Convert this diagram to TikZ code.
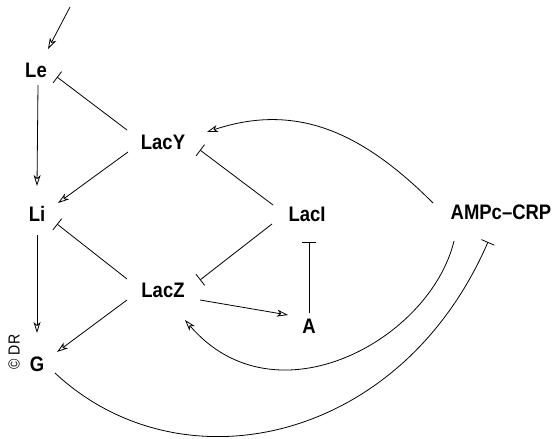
\documentclass[tikz,border=0pt]{standalone}
\usepackage{fontspec}
\setmainfont{Liberation Sans}
\newfontfamily\lblfont[FakeStretch=0.88]{Liberation Sans}
\usetikzlibrary{arrows.meta,calc}
\begin{document}
\begin{tikzpicture}[x=1pt,y=-1pt,
  lbl/.style={font=\lblfont\bfseries\fontsize{21}{21}\selectfont, inner sep=0pt},
  link/.style={line width=0.8pt},
  act/.style={link,-{Stealth[open,length=11pt,width=7pt,inset=3pt]}},
  inh/.style={link,-{Bar[width=14pt]}}]
\useasboundingbox (0,0) rectangle (557,439);
% nodes
\node[lbl] (Le)   at (36,70)   {Le};
\node[lbl] (LacY) at (163,142) {LacY};
\node[lbl] (Li)   at (37,214)  {Li};
\node[lbl] (LacI) at (307,214) {LacI};
\node[lbl] (AMP)  at (501,212) {AMPc–CRP};
\node[lbl] (LacZ) at (163,290) {LacZ};
\node[lbl] (A)    at (309,326) {A};
\node[lbl] (G)    at (37,364)  {G};
\node[font=\lblfont\fontsize{16}{16}\selectfont, inner sep=0pt, rotate=90] (DR) at (14,352) {© DR};
\coordinate (in) at (70,7);
% connectors
\draw[act] (in) -- ($(Le)+(12,-21)$);
\draw[act] ($(Le)+(2,15)$) -- ($(Li)+(0,-28)$);
\draw[inh] ($(LacY)+(-36,-12)$) -- ($(Le)+(21,7)$);
\draw[act] ($(LacY)+(-35,10)$) -- ($(Li)+(21,-11)$);
\draw[inh] ($(LacZ)+(-36,-11)$) -- ($(Li)+(20,10)$);
\draw[act] ($(Li)+(0,21)$) -- ($(G)+(0,-31)$);
\draw[act] ($(LacZ)+(-36,10)$) -- ($(G)+(20,-12)$);
\draw[act] ($(LacZ)+(37,10)$) -- ($(A)+(-21,-11)$);
\draw[inh] ($(LacI)+(-34,-9)$) -- ($(LacY)+(37,8)$);
\draw[inh] ($(LacI)+(-35,10)$) -- ($(LacZ)+(37,-10)$);
\draw[inh] ($(A)+(0,-13)$) -- ($(LacI)+(2,28)$);
\draw[act] ($(AMP)+(-68,-9)$) .. controls (363,133) and (297,102) .. ($(LacY)+(44,-10)$);
\draw[act] ($(AMP)+(-47,29)$) .. controls (430,340) and (275,425) .. ($(LacZ)+(22,30)$);
\draw[inh] ($(G)+(18,9)$) .. controls (180,490) and (400,445) .. ($(AMP)+(-13,30)$);
\end{tikzpicture}
\end{document}
